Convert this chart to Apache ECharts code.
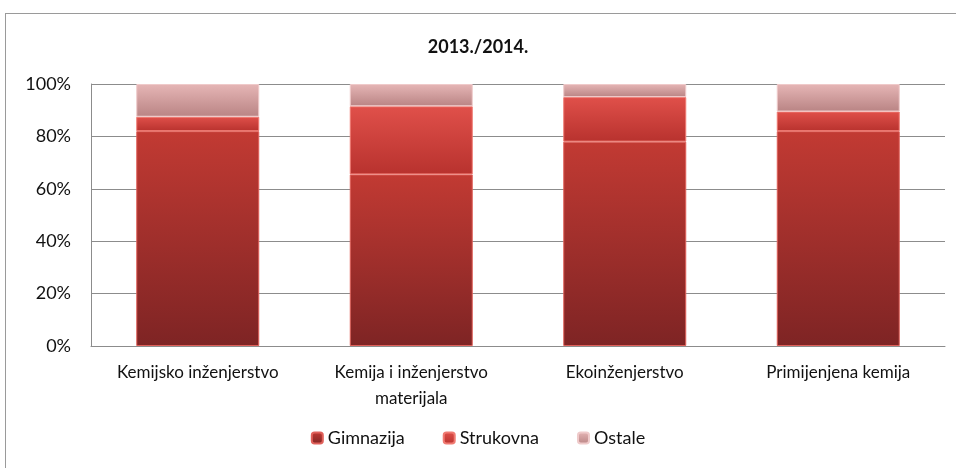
<!DOCTYPE html>
<html>
<head>
<meta charset="utf-8">
<script src="https://cdn.jsdelivr.net/npm/echarts@6/dist/echarts.min.js"></script>
<style>
  html, body { margin: 0; padding: 0; background: #fff; }
  #frame { position: absolute; left: 5px; top: 13px; width: 960px; height: 470px; border: 1px solid #9a9a9a; box-sizing: border-box; }
  #chart { position: absolute; left: 0; top: 0; width: 956px; height: 468px; }
</style>
</head>
<body>
<div id="frame"></div>
<div id="chart"></div>
<script>
  var categories = ['Kemijsko inženjerstvo', 'Kemija i inženjerstvo\nmaterijala', 'Ekoinženjerstvo', 'Primijenjena kemija'];
  var gimnazija = [82, 65.5, 78, 82];
  var strukovna = [5.5, 26, 17, 7.5];
  var ostale = [12.5, 8.5, 5, 10.5];
  var yTicks = [0, 20, 40, 60, 80, 100];

  function grad(top, bottom) {
    return new echarts.graphic.LinearGradient(0, 0, 0, 1, [
      { offset: 0, color: top },
      { offset: 1, color: bottom }
    ]);
  }

  var chart = echarts.init(document.getElementById('chart'));
  var font = 'Lato, "Open Sans", sans-serif';

  chart.setOption({
    animation: false,
    textStyle: { fontFamily: font },
    title: {
      text: '2013./2014.',
      left: 'center',
      top: 33,
      textStyle: { fontFamily: font, fontSize: 18, fontWeight: 'bold', color: '#111' }
    },
    legend: {
      bottom: 16,
      left: 'center',
      itemWidth: 11,
      itemHeight: 11,
      itemGap: 38,
      textStyle: { fontFamily: font, fontSize: 18, color: '#111' },
      data: ['Gimnazija', 'Strukovna', 'Ostale']
    },
    grid: { left: 91, right: 11, top: 84, bottom: 122 },
    xAxis: {
      type: 'category',
      data: categories,
      axisTick: { show: false },
      axisLine: { lineStyle: { color: '#8c8c8c', width: 1 } },
      axisLabel: { fontFamily: font, fontSize: 17, color: '#111', margin: 14, lineHeight: 26, interval: 0 }
    },
    yAxis: {
      type: 'value',
      min: 0,
      max: 100,
      interval: 20,
      axisLine: { show: true, lineStyle: { color: '#8c8c8c', width: 1 } },
      axisTick: { show: false },
      splitLine: { lineStyle: { color: '#8c8c8c', width: 1 } },
      axisLabel: {
        fontFamily: font, fontSize: 18, color: '#111', margin: 20,
        formatter: function (v) { return yTicks.indexOf(v) >= 0 ? v + '%' : ''; }
      }
    },
    series: [{
      name: 'Gimnazija',
      type: 'bar',
      stack: 'all',
      barWidth: 123,
      data: gimnazija,
      itemStyle: { color: grad('#c23a33', '#7e2424'), borderColor: '#e0605a', borderWidth: 1 }
    }, {
      name: 'Strukovna',
      type: 'bar',
      stack: 'all',
      data: strukovna,
      itemStyle: { color: grad('#e0504a', '#b8322e'), borderColor: '#f07a72', borderWidth: 1 }
    }, {
      name: 'Ostale',
      type: 'bar',
      stack: 'all',
      data: ostale,
      itemStyle: { color: grad('#e6b6b6', '#b98484'), borderColor: '#efcaca', borderWidth: 1 }
    }]
  });
</script>
</body>
</html>
